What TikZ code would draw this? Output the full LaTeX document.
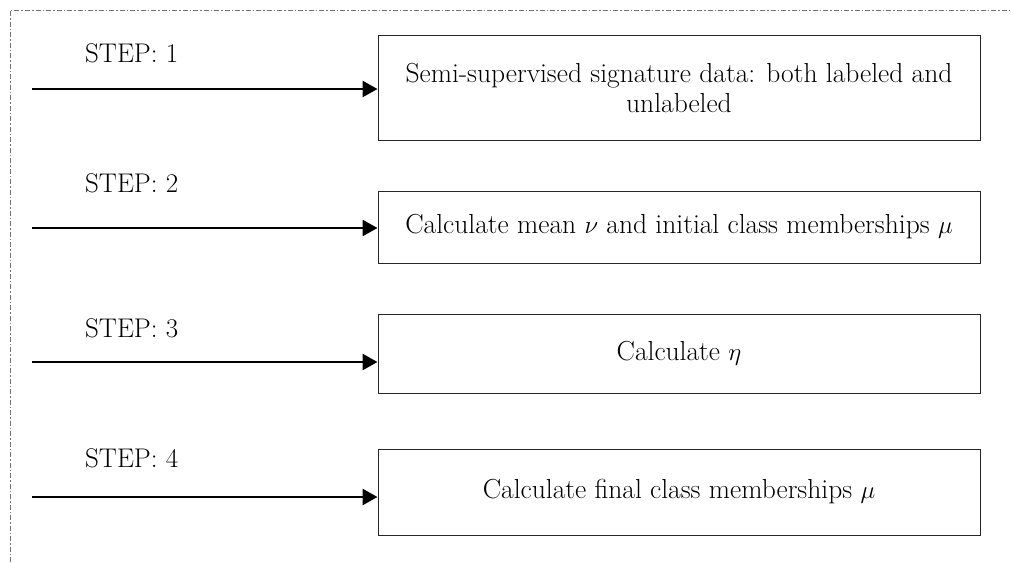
\documentclass[tikz,border=0pt]{standalone}
\usetikzlibrary{arrows.meta}
\begin{document}
\begin{tikzpicture}[x=1pt,y=-1pt,
  stepbox/.style={draw=black!85,line width=1pt,minimum width=602pt,inner sep=0pt,align=center,font=\fontsize{27.5}{30}\selectfont},
  steplabel/.style={anchor=west,inner sep=0pt,font=\fontsize{27}{30}\selectfont},
  steparrow/.style={line width=2.6pt,-{Triangle[length=15pt,width=16pt]}},
  frame/.style={draw=black!55,line width=1pt,dash pattern=on 5pt off 2pt on 1.5pt off 2pt}]
\useasboundingbox (0,0) rectangle (1011,562);
\draw[frame] (10,562) -- (10,10) -- (1011,10);
% boxes
\node[stepbox,minimum height=105pt] (b1) at (679,87.5) {Semi-supervised signature data: both labeled and\\unlabeled};
\node[stepbox,minimum height=72pt] (b2) at (679,227) {Calculate mean $\nu$ and initial class memberships $\mu$};
\node[stepbox,minimum height=79pt] (b3) at (679,353.5) {Calculate $\eta$};
\node[stepbox,minimum height=86pt] (b4) at (679,492) {Calculate final class memberships $\mu$};
% labels
\node[steplabel] (s1) at (85,53) {STEP: 1};
\node[steplabel] (s2) at (85,183) {STEP: 2};
\node[steplabel] (s3) at (85,328) {STEP: 3};
\node[steplabel] (s4) at (85,458) {STEP: 4};
% arrow starts
\coordinate (a1) at (32,89);
\coordinate (a2) at (32,228);
\coordinate (a3) at (32,362);
\coordinate (a4) at (32,497);
\draw[steparrow] (a1) -- (b1.west |- a1);
\draw[steparrow] (a2) -- (b2.west |- a2);
\draw[steparrow] (a3) -- (b3.west |- a3);
\draw[steparrow] (a4) -- (b4.west |- a4);
\end{tikzpicture}
\end{document}
